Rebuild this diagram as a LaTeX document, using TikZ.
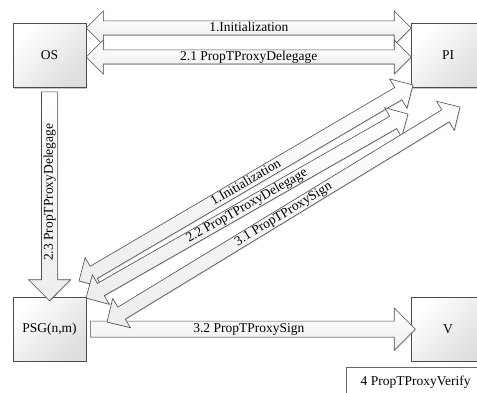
\documentclass[tikz,border=0pt]{standalone}
\usepackage{fontspec}
\setmainfont{Liberation Serif}
\usetikzlibrary{shapes.arrows, shadows, calc, positioning}

\begin{document}
\begin{tikzpicture}[x=1pt, y=-1pt, font=\fontsize{13.5}{15}\selectfont,
    party/.style={draw=black!70, line width=0.6pt, minimum width=73pt, minimum height=64pt,
        top color=white, bottom color=black!13, shading angle=45,
        drop shadow={shadow xshift=1.2pt, shadow yshift=-1.2pt, opacity=0.45}},
    msgbase/.style={draw=black!70, line width=0.6pt, top color=white, bottom color=black!7,
        inner xsep=0pt, text height=9.5pt, text depth=3pt,
        drop shadow={shadow xshift=0.8pt, shadow yshift=-0.8pt, opacity=0.3}},
    twoway/.style={msgbase, double arrow, double arrow head extend=10pt, inner ysep=0.5pt},
    oneway/.style={msgbase, single arrow, single arrow head extend=13pt, inner ysep=1.5pt},
    note/.style={draw=black!60, line width=0.6pt, fill=white, minimum width=138pt, minimum height=30pt}]

    \useasboundingbox (0,0) rectangle (477,393);

    % --- Parties ---
    \node[party] (OS) at (49.5,55.5) {OS};
    \node[party, right=325pt of OS] (PI) {PI};
    \node[party, below=209pt of OS] (PSG) {PSG(n,m)};
    \node[party, right=325pt of PSG] (V) {V};

    % --- End points of the slanted messages ---
    \coordinate (initL) at (79,281);
    \coordinate (initR) at (413,85);
    \coordinate (delL) at (86,298);
    \coordinate (delR) at (408,114);
    \coordinate (signL) at (107,322);
    \coordinate (signR) at (460,107);

    % --- OS <-> PI ---
    \path let \p1 = ($(PI.west)-(OS.east)$) in
        node[twoway, minimum height={veclen(\x1,\y1)}] (initOP)
            at ($(OS.east)!0.5!(PI.west)+(0,-27.5)$) {1.Initialization};
    \path let \p1 = ($(PI.west)-(OS.east)$) in
        node[twoway, minimum height={veclen(\x1,\y1)}] (delOP)
            at ($(OS.east)!0.5!(PI.west)+(0,1.5)$) {2.1 PropTProxyDelegage};

    % --- OS -> PSG ---
    \path let \p1 = ($(PSG.north)-(OS.south)$) in
        node[oneway, rotate=90, shape border rotate=180, minimum height={veclen(\x1,\y1)}] (delOS)
            at ($(OS.south)!0.5!(PSG.north)$) {2.3 PropTProxyDelegage};

    % --- PSG -> V ---
    \path let \p1 = ($(V.west)-(PSG.east)$) in
        node[oneway, minimum height={veclen(\x1,\y1)}] (signPV)
            at ($(PSG.east)!0.5!(V.west)$) {3.2 PropTProxySign};

    % --- PSG <-> PI (slanted) ---
    \path let \p1 = ($(initR)-(initL)$) in
        node[twoway, minimum height={veclen(\x1,\y1)}, rotate={atan2(\y1,\x1)}] (initPP)
            at ($(initL)!0.5!(initR)$) {1.Initialization};
    \path let \p1 = ($(delR)-(delL)$) in
        node[twoway, minimum height={veclen(\x1,\y1)}, rotate={atan2(\y1,\x1)}] (delPP)
            at ($(delL)!0.5!(delR)$) {2.2 PropTProxyDelegage};
    \path let \p1 = ($(signR)-(signL)$) in
        node[twoway, minimum height={veclen(\x1,\y1)}, rotate={atan2(\y1,\x1)}] (signPP)
            at ($(signL)!0.5!(signR)$) {3.1 PropTProxySign};

    % --- Verification step ---
    \node[note, below=6pt of V.south east, anchor=north east] (verify) {4 PropTProxyVerify};

\end{tikzpicture}
\end{document}
